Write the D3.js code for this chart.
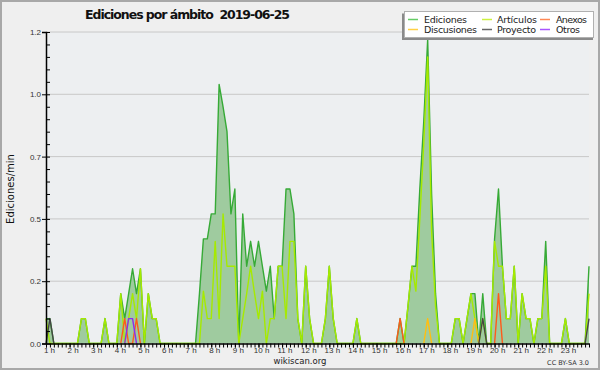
<!DOCTYPE html>
<html>
<head>
<meta charset="utf-8">
<script src="https://cdn.jsdelivr.net/npm/d3@7"></script>
<style>
  body { margin: 0; background: #fff; }
  svg { display: block; font-family: 'DejaVu Sans', sans-serif; }
  .axis path, .axis line { stroke: #000; }
  .axis text { fill: #333; font-size: 8px; }
</style>
</head>
<body>
<div id="chartbox"></div>
<script>

// 10-minute bins starting at 1 h
const startHour = 1
const binsPerHour = 6

const ediciones = [
  0.1, 0.1, 0, 0, 0, 0, 0, 0, 0, 0.1, 0.1, 0, 0, 0, 0, 0.1, 0, 0, 0, 0.2,
  0.1, 0.2, 0.3, 0.2, 0.3, 0, 0.2, 0.1, 0.1, 0, 0, 0, 0, 0, 0, 0, 0, 0, 0, 0.2,
  0.42, 0.42, 0.52, 0.52, 1.04, 0.95, 0.85, 0.52, 0.62, 0, 0.52, 0.31, 0.41, 0.31, 0.41, 0.31, 0.21, 0.31, 0.1, 0.31,
  0.31, 0.62, 0.62, 0.52, 0.1, 0, 0.31, 0.1, 0, 0, 0, 0.1, 0.31, 0.1, 0, 0, 0, 0, 0, 0.1,
  0, 0, 0, 0, 0, 0, 0, 0, 0, 0, 0.1, 0, 0.15, 0.31, 0.31, 0.62, 0.89, 1.22, 0.6, 0.2,
  0, 0, 0, 0, 0.1, 0.1, 0, 0.1, 0.2, 0.2, 0, 0.2, 0, 0, 0.42, 0.62, 0.31, 0.1, 0.1, 0.31,
  0, 0.2, 0.1, 0.1, 0, 0.1, 0.1, 0.41, 0, 0, 0, 0, 0.1, 0, 0, 0, 0, 0, 0.31
]

const articulos = [
  0.1, 0, 0, 0, 0, 0, 0, 0, 0, 0.1, 0.1, 0, 0, 0, 0, 0.1, 0, 0, 0, 0.2,
  0, 0.1, 0.2, 0.1, 0.3, 0, 0.2, 0.1, 0.1, 0, 0, 0, 0, 0, 0, 0, 0, 0, 0, 0,
  0.21, 0.1, 0.1, 0.41, 0.1, 0.52, 0.31, 0.31, 0.31, 0, 0.1, 0.2, 0.31, 0.2, 0.1, 0.21, 0, 0.1, 0.1, 0.31,
  0.31, 0.1, 0.41, 0.41, 0.1, 0, 0.31, 0.1, 0, 0, 0, 0.1, 0.31, 0.1, 0, 0, 0, 0, 0, 0.1,
  0, 0, 0, 0, 0, 0, 0, 0, 0, 0, 0, 0, 0.15, 0.31, 0.21, 0.5, 0.8, 1.15, 0.45, 0.15,
  0, 0, 0, 0, 0.1, 0.1, 0, 0.1, 0.2, 0.1, 0, 0.1, 0, 0, 0.41, 0.31, 0.31, 0.1, 0.1, 0.31,
  0, 0.2, 0.1, 0.1, 0, 0.1, 0.1, 0.31, 0, 0, 0, 0, 0.1, 0, 0, 0, 0, 0, 0.2
]

// the small series are mostly zero: bin index -> value
const anexos = { 20: 0.1, 23: 0.1, 90: 0.1, 115: 0.2 }
const discusiones = { 97: 0.1, 109: 0.1 }
const proyecto = { 1: 0.1, 111: 0.1, 138: 0.1 }
const otros = { 21: 0.1, 22: 0.1 }

const legendNames = ['Ediciones', 'Artículos', 'Anexos', 'Discusiones', 'Proyecto', 'Otros']
const lineColors = ['#36aa36', '#a6ea00', '#ff5a1a', '#ffbe10', '#454545', '#8a2cf0']
const legendColors = ['#66cc66', '#ccf040', '#ff8855', '#ffd044', '#666666', '#a855ff']

const yTicks = [0, 0.25, 0.5, 0.75, 1, 1.25]
const hourLabels = d3.range(1, 24)

const sparse = obj => ediciones.map((d, i) => obj[i] || 0)
const series = [ediciones, articulos, sparse(anexos), sparse(discusiones), sparse(proyecto), sparse(otros)]

const W = 600, H = 370
const mLeft = 46, mRight = 589, mTop = 32, mBottom = 343.5

const svg = d3.select('#chartbox')
  .append('svg')
  .attr('width', W)
  .attr('height', H)

svg.append('rect')
  .attr('x', 1).attr('y', 1)
  .attr('width', W - 2).attr('height', H - 2)
  .attr('fill', '#efefef')
  .attr('stroke', '#a8a8a8')
  .attr('stroke-width', 2)

svg.append('rect')
  .attr('x', mLeft).attr('y', mTop)
  .attr('width', mRight - mLeft).attr('height', mBottom - mTop)
  .attr('fill', '#edeff1')

const x = d3.scaleLinear().domain([1, 24]).range([mLeft, mRight])
const y = d3.scaleLinear().domain([0, 1.25]).range([mBottom, mTop])

const hourOf = i => startHour + i / binsPerHour

// grid
svg.append('g')
  .selectAll('line')
  .data(yTicks.slice(1))
  .enter()
  .append('line')
  .attr('x1', mLeft).attr('x2', mRight)
  .attr('y1', d => y(d)).attr('y2', d => y(d))
  .attr('stroke', '#c8c8c8')

// area + lines
const area = d3.area()
  .x((d, i) => x(hourOf(i)))
  .y0(mBottom)
  .y1(d => y(d))

svg.append('path')
  .datum(ediciones)
  .attr('d', area)
  .attr('fill', '#9fcb9f')

const line = d3.line()
  .x((d, i) => x(hourOf(i)))
  .y(d => y(d))

// Ediciones and Artículos first, the small series above them
;[0, 1, 2, 3, 4, 5].forEach(k => {
  const s = series[k]
  const l = k < 2 ? line : d3.line()
    .defined((d, i) => d > 0 || s[i - 1] > 0 || s[i + 1] > 0)
    .x((d, i) => x(hourOf(i)))
    .y(d => y(d))
  svg.append('path')
    .datum(s)
    .attr('d', l)
    .attr('fill', 'none')
    .attr('stroke', lineColors[k])
    .attr('stroke-width', 1.4)
    .attr('stroke-linejoin', 'round')
})

// y axis
const yAxis = svg.append('g')
  .attr('class', 'axis')
  .attr('transform', `translate(${mLeft},0)`)
  .call(d3.axisLeft(y)
    .tickValues(yTicks)
    .tickSize(4)
    .tickPadding(1)
    .tickFormat(d => (Math.floor(d * 10 + 1e-9) / 10).toFixed(1)))

svg.append('g')
  .attr('class', 'axis')
  .attr('transform', `translate(${mLeft},0)`)
  .call(d3.axisRight(y)
    .tickValues(d3.range(0, 1.26, 0.05))
    .tickSize(4)
    .tickFormat(''))
  .select('.domain').remove()

yAxis.select('.domain').attr('stroke-width', 1.5)

// x axis
svg.append('g')
  .attr('class', 'axis')
  .attr('transform', `translate(0,${mBottom})`)
  .call(d3.axisBottom(x)
    .tickValues(d3.range(1, 24.01, 1 / binsPerHour))
    .tickSize(4)
    .tickSizeOuter(0)
    .tickFormat(''))
  .select('.domain').attr('stroke-width', 1.5)

svg.append('g')
  .attr('class', 'axis')
  .attr('transform', `translate(0,${mBottom})`)
  .call(d3.axisBottom(x)
    .tickValues(hourLabels)
    .tickSize(4)
    .tickPadding(0)
    .tickFormat(d => d + ' h'))
  .call(g => g.select('.domain').remove())
  .selectAll('text')
  .attr('font-size', '8.5px')
  .attr('text-anchor', 'start')
  .attr('dx', d => -(String(d).length * 2.6) + 'px')

// title
svg.append('text')
  .attr('x', 85).attr('y', 19)
  .attr('font-size', '12.5px')
  .attr('font-weight', 'bold')
  .attr('textLength', 205)
  .attr('fill', '#111')
  .style('white-space', 'pre')
  .text('Ediciones por ámbito  2019-06-25')

// y label
svg.append('text')
  .attr('transform', 'translate(14,189) rotate(-90)')
  .attr('text-anchor', 'middle')
  .attr('font-size', '10px')
  .attr('fill', '#111')
  .text('Ediciones/min')

svg.append('text')
  .attr('x', 300).attr('y', 364)
  .attr('text-anchor', 'middle')
  .attr('font-size', '8.5px')
  .attr('fill', '#222')
  .text('wikiscan.org')

svg.append('text')
  .attr('x', 589).attr('y', 365)
  .attr('text-anchor', 'end')
  .attr('font-size', '6.5px')
  .attr('fill', '#333')
  .text('CC BY-SA 3.0')

// legend
const legend = svg.append('g')

legend.append('rect')
  .attr('x', 402).attr('y', 13.5)
  .attr('width', 191).attr('height', 26.5)
  .attr('fill', '#8a8a8a')

legend.append('rect')
  .attr('x', 404.5).attr('y', 11.5)
  .attr('width', 189).attr('height', 26)
  .attr('fill', '#fff')
  .attr('stroke', '#b0b0b0')

const legX = [408, 482, 540]
const legTextX = [424, 497, 556]
const legWidths = [43, 40, 31, 53, 39, 24]

const legItems = legend.selectAll('g.item')
  .data(legendNames)
  .enter()
  .append('g')
  .attr('class', 'item')

legItems.append('line')
  .attr('x1', (d, i) => legX[i % 3])
  .attr('x2', (d, i) => legX[i % 3] + 10)
  .attr('y1', (d, i) => i < 3 ? 19.5 : 29.5)
  .attr('y2', (d, i) => i < 3 ? 19.5 : 29.5)
  .attr('stroke', (d, i) => legendColors[i])
  .attr('stroke-width', 1.5)

legItems.append('text')
  .attr('x', (d, i) => legTextX[i % 3])
  .attr('y', (d, i) => i < 3 ? 23 : 33)
  .attr('font-size', '9.5px')
  .attr('textLength', (d, i) => legWidths[i])
  .attr('fill', '#222')
  .text(d => d)

</script>
</body>
</html>
